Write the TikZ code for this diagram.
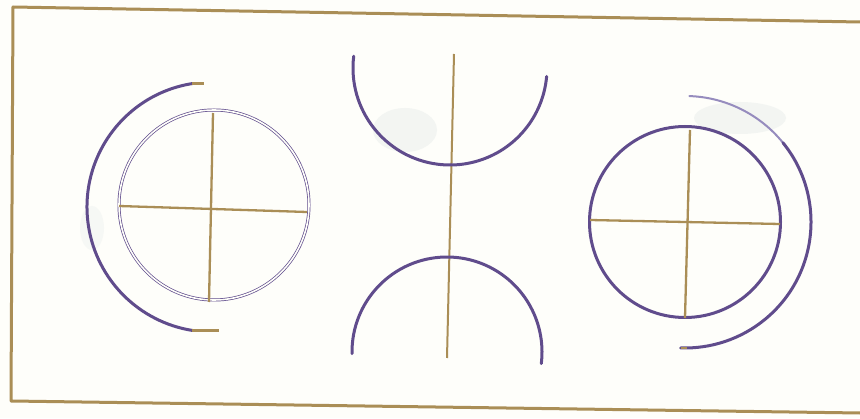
\documentclass[tikz,border=0pt]{standalone}
\usepackage{tikz}
\usetikzlibrary{calc}
\definecolor{ink}{RGB}{96,76,140}
\definecolor{inklight}{RGB}{150,140,190}
\definecolor{gold}{RGB}{170,142,86}
\definecolor{paper}{RGB}{254,254,250}
\definecolor{smudge}{RGB}{236,240,238}

\begin{document}
\begin{tikzpicture}[x=1pt,y=1pt,
  frame/.style={gold,line width=3pt,line join=round},
  axis/.style={gold,line width=2.3pt},
  ring/.style={ink,line width=3pt,line cap=round},
  thinring/.style={ink,line width=0.7pt,double=paper,double distance=1.6pt}]
\fill[paper] (0,0) rectangle (860,418);
\useasboundingbox (0,0) rectangle (860,418);
% white-out patches on the paper
\fill[smudge,opacity=0.6] (405,288) ellipse[x radius=32pt,y radius=22pt];
\fill[smudge,opacity=0.6] (740,300) ellipse[x radius=46pt,y radius=16pt];
\fill[smudge,opacity=0.4] (92,190) ellipse[x radius=12pt,y radius=22pt];
% frame
\draw[frame] (860,396) -- (13,411) -- (11,17) -- (860,5);

% left: thin double circle, cross and open arc
\coordinate (lc) at (214,213);
\coordinate (lo) at (212,211);
\draw[thinring] (lc) circle[radius=95pt];
\draw[axis] (119,212) -- (307,206);
\draw[axis] (213,305) -- (209,116);
\draw[ring] (lo) ++(99:125pt) coordinate (lo-top)
  arc[start angle=99,end angle=261,radius=125pt] coordinate (lo-bot);
\draw[axis] (lo-top) -- ++(12,0);
\draw[axis] (lo-bot) -- ++(27,0);

% middle: axis and two facing arcs
\coordinate (mt) at (450,350);
\coordinate (mb) at (447,66);
\draw[axis,line width=2pt] (454,364) -- (447,60);
\draw[ring] (mt) ++(173:97pt) arc[start angle=173,end angle=355,radius=97pt];
\draw[ring] (mb) ++(181:95pt) arc[start angle=181,end angle=-7,radius=95pt];

% right: circle, cross and open arc
\coordinate (rc) at (685,196);
\draw[ring] (rc) circle[radius=95.5pt];
\draw[axis] (590,198) -- (780,194);
\draw[axis] (690,288) -- (685,100);
\draw[ring,inklight,line width=2pt] (rc) ++(88:126pt)
  arc[start angle=88,end angle=39,radius=126pt] coordinate (ro-mid);
\draw[ring] (ro-mid) arc[start angle=39,end angle=-92,radius=126pt] coordinate (ro-bot);
\draw[axis] (ro-bot) -- ++(6,0);
\end{tikzpicture}
\end{document}
